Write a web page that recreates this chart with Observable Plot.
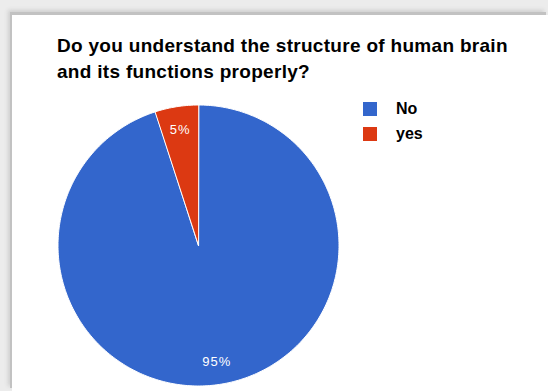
<!DOCTYPE html>
<html>
<head>
<meta charset="utf-8">
<script src="https://cdn.jsdelivr.net/npm/d3@7"></script>
<script src="https://cdn.jsdelivr.net/npm/@observablehq/plot@0.6"></script>
<style>
html, body { margin: 0; padding: 0; }
body { width: 548px; height: 391px; overflow: hidden; position: relative; background: #ececec; font-family: "Liberation Sans", Arial, sans-serif; }
#panel { position: absolute; left: 12px; top: 15px; right: 0; bottom: 0; background: #fff;
  box-shadow: -2px -3px 0 #c2c2c2, -4px -5px 4px #cfcfcf; }
#title { position: absolute; left: 57px; top: 33px; font-weight: bold; font-size: 19px; line-height: 26px; letter-spacing: 0.3px; color: #000; white-space: nowrap; }
#chart { position: absolute; left: 0; top: 0; }
#chart svg text { letter-spacing: 1px; }
#legend { position: absolute; left: 363px; top: 102px; }
.item { position: relative; height: 25px; width: 120px; }
.sw { position: absolute; left: 0; top: 0; width: 14px; height: 14px; }
.lab { position: absolute; left: 33px; top: -1px; font-size: 16px; line-height: 16px; font-weight: bold; color: #000; }
</style>
</head>
<body>
<div id="panel"></div>
<div id="chart"></div>
<div id="title">Do you understand the structure of human brain<br>and its functions properly?</div>
<div id="legend"></div>
<script>
const categories = ["No", "yes"];
const values = [95, 5];
const colors = ["#3366cc", "#dc3912"];
const labels = ["95%", "5%"];

const rows = categories.map((c, i) => ({category: c, value: values[i], label: labels[i]}));
const arcs = d3.pie().sort(null).value(d => d.value)(rows);

const pts = [];
for (const s of arcs) {
  const n = Math.max(2, Math.ceil((s.endAngle - s.startAngle) / (Math.PI / 180)));
  pts.push({category: s.data.category, x: 0, y: 0});
  for (let k = 0; k <= n; k++) {
    const a = s.startAngle + (s.endAngle - s.startAngle) * k / n;
    pts.push({category: s.data.category, x: Math.sin(a), y: Math.cos(a)});
  }
}
const labelPts = arcs.map(s => {
  const a = (s.startAngle + s.endAngle) / 2;
  return {label: s.data.label, x: 0.836 * Math.sin(a), y: 0.836 * Math.cos(a)};
});

const chart = Plot.plot({
  width: 548,
  height: 391,
  margin: 0,
  style: {background: "transparent", overflow: "visible"},
  x: {domain: [-1, 1], range: [57.5, 338.5], axis: null},
  y: {domain: [-1, 1], range: [385.5, 104.5], axis: null},
  color: {domain: categories, range: colors},
  marks: [
    Plot.line(pts, {x: "x", y: "y", z: "category", fill: "category", stroke: "white", strokeWidth: 1, curve: "linear-closed"}),
    Plot.text(labelPts, {x: "x", y: "y", text: "label", fill: "white", fontSize: 13, fontFamily: "Liberation Sans, Arial, sans-serif"})
  ]
});
document.getElementById("chart").appendChild(chart);

const legend = document.getElementById("legend");
categories.forEach((c, i) => {
  const item = document.createElement("div");
  item.className = "item";
  const sw = document.createElement("div");
  sw.className = "sw";
  sw.style.background = colors[i];
  const lab = document.createElement("div");
  lab.className = "lab";
  lab.textContent = c;
  item.appendChild(sw);
  item.appendChild(lab);
  legend.appendChild(item);
});
</script>
</body>
</html>
